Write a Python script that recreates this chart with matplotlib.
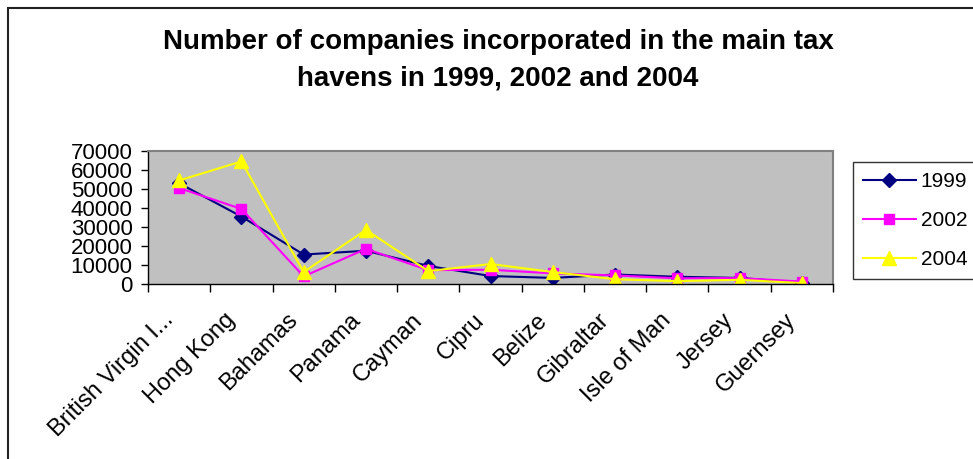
import numpy as np
import matplotlib.pyplot as plt
from matplotlib.patches import Rectangle
from matplotlib.transforms import ScaledTranslation

# data
countries = ["British Virgin I...", "Hong Kong", "Bahamas", "Panama", "Cayman",
             "Cipru", "Belize", "Gibraltar", "Isle of Man", "Jersey", "Guernsey"]
y1999 = [53000, 35500, 15500, 17500, 9500, 4200, 3200, 5000, 3800, 3200, 600]
y2002 = [50500, 39500, 4000, 18500, 7300, 7500, 5600, 4500, 3000, 3100, 1300]
y2004 = [54500, 64500, 6300, 28500, 6800, 10500, 6300, 2500, 1500, 2200, 500]
yticks = [0, 10000, 20000, 30000, 40000, 50000, 60000, 70000]

plt.rcParams['font.family'] = ['Liberation Sans', 'DejaVu Sans']

fig = plt.figure(figsize=(9.73, 4.59), dpi=100)
W, H = 973, 459

# outer chart border (cut off at right and bottom like the screenshot)
fig.patches.append(Rectangle((8 / W, -0.1), 1.1, 1 - 8 / H + 0.1,
                             transform=fig.transFigure, fill=False,
                             edgecolor='#222222', lw=1.5))

ax = fig.add_axes([148 / W, 1 - 284 / H, 685 / W, 133 / H])
ax.set_facecolor('#C0C0C0')

x = np.arange(len(countries))
ax.plot(x, y1999, color='#000080', marker='D', markersize=7.5, lw=1.5, label='1999')
ax.plot(x, y2002, color='#FF00FF', marker='s', markersize=7.5, lw=1.5, label='2002')
ax.plot(x, y2004, color='#FFFF00', marker='^', markersize=10, lw=1.5, label='2004')

ax.set_xlim(-0.5, len(countries) - 0.5)
ax.set_ylim(0, 70000)
ax.set_yticks(yticks)
ax.set_yticklabels([str(v) for v in yticks], fontsize=16)
ax.tick_params(axis='y', direction='out', length=5, width=1, pad=6)

ax.set_xticks(x)
ax.set_xticklabels(countries, rotation=45, ha='right', va='top',
                   rotation_mode='anchor', fontsize=17)
ax.tick_params(axis='x', which='major', length=0, pad=0)
# shift labels so their ends sit just left of and below each category
off = ScaledTranslation(-17 / 100, -25 / 100, fig.dpi_scale_trans)
for lab in ax.get_xticklabels():
    lab.set_transform(lab.get_transform() + off)
ax.set_xticks(np.arange(-0.5, len(countries), 1), minor=True)
ax.tick_params(axis='x', which='minor', direction='out', length=6, width=1)

for s in ['top', 'right']:
    ax.spines[s].set_color('#808080')
    ax.spines[s].set_linewidth(1.5)
for s in ['left', 'bottom']:
    ax.spines[s].set_color('black')
    ax.spines[s].set_linewidth(1)

fig.text(498 / W, 1 - 42 / H, "Number of companies incorporated in the main tax",
         ha='center', va='center', fontsize=20, fontweight='bold')
fig.text(498 / W, 1 - 78 / H, "havens in 1999, 2002 and 2004",
         ha='center', va='center', fontsize=20, fontweight='bold')

leg = fig.legend(loc='upper left', bbox_to_anchor=(853 / W, 1 - 162 / H),
                 fontsize=15, frameon=True, fancybox=False, handlelength=2.5,
                 borderpad=0.5, labelspacing=0.95, handletextpad=0.25,
                 borderaxespad=0)
leg.get_frame().set_edgecolor('black')
leg.get_frame().set_linewidth(1)

fig.savefig('out.png', dpi=100)
